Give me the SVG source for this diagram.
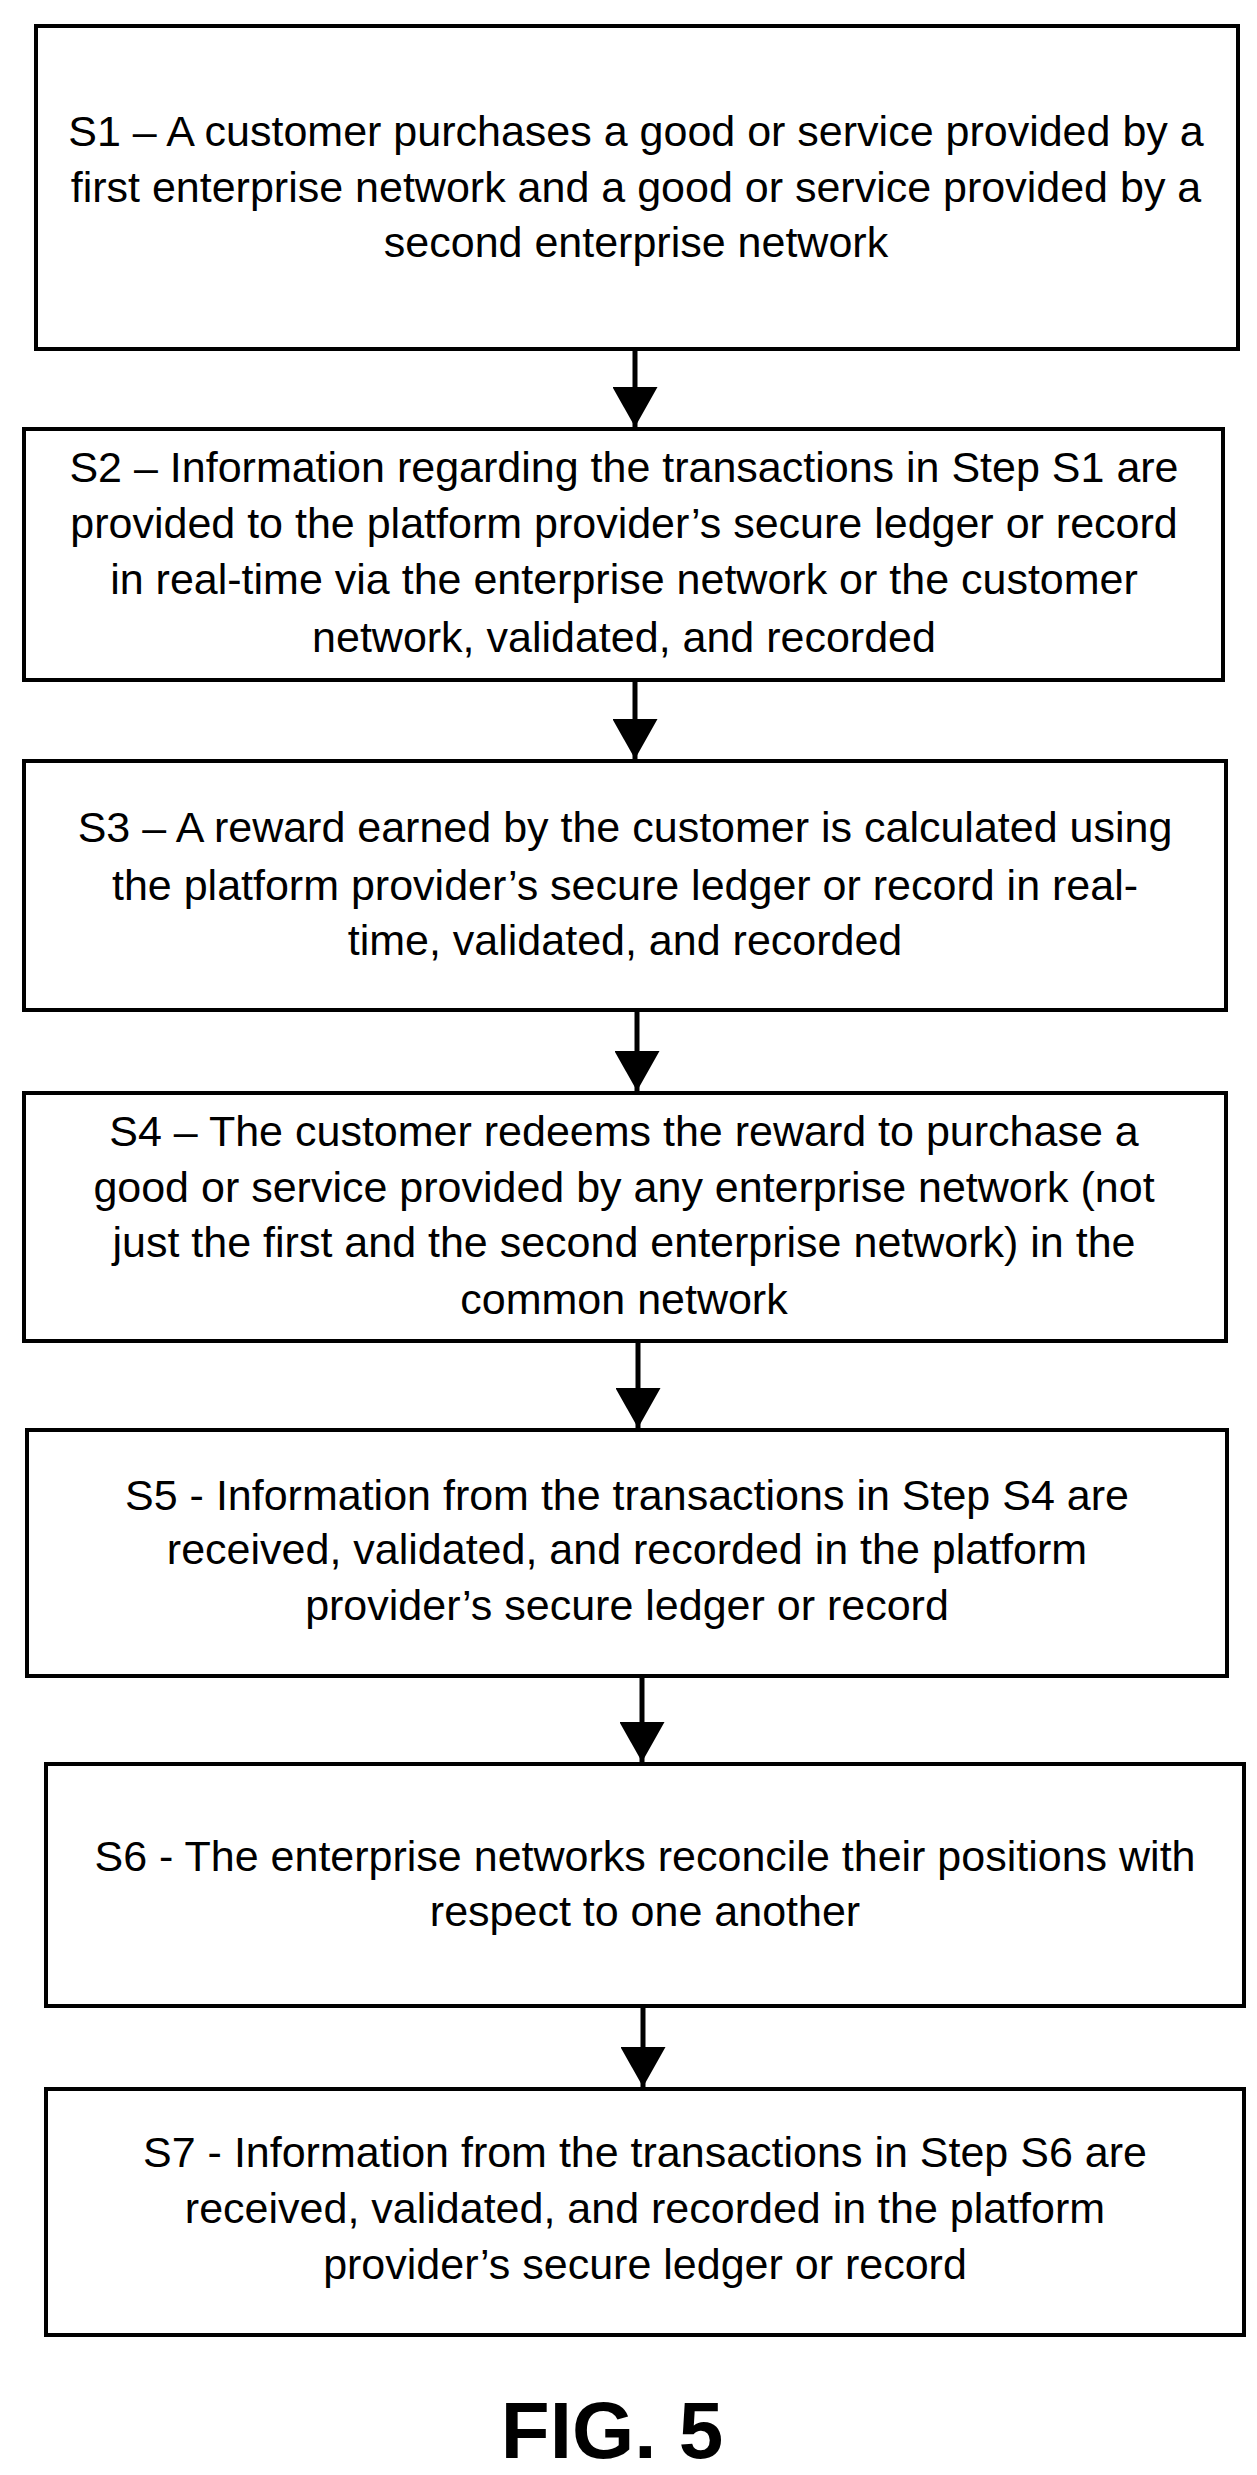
<svg xmlns="http://www.w3.org/2000/svg" width="1257" height="2475" viewBox="0 0 1257 2475">
<style>
.box{fill:#fff;stroke:#000;stroke-width:4}
text{font-family:"Liberation Sans",Arial,sans-serif;font-size:43px;fill:#000;text-anchor:middle}
.fig{font-size:80px;font-weight:bold}
.c line{stroke:#000;stroke-width:5}
</style>
<defs><marker id="ah" markerWidth="8" markerHeight="9" refX="8" refY="4.5" orient="auto" markerUnits="strokeWidth"><path d="M0,0 L8,4.5 L0,9 Z" fill="#000"/></marker></defs>
<rect width="1257" height="2475" fill="#fff"/>
<g id="connectors" class="c">
<line x1="635" y1="349" x2="635" y2="427" marker-end="url(#ah)"/>
<line x1="635" y1="680" x2="635" y2="759" marker-end="url(#ah)"/>
<line x1="637" y1="1010" x2="637" y2="1091" marker-end="url(#ah)"/>
<line x1="638" y1="1341" x2="638" y2="1428" marker-end="url(#ah)"/>
<line x1="642" y1="1676" x2="642" y2="1762" marker-end="url(#ah)"/>
<line x1="643" y1="2006" x2="643" y2="2087" marker-end="url(#ah)"/>
</g>
<g id="s1"><rect class="box" x="36" y="26" width="1202" height="323"/>
<text x="636" y="146">S1 – A customer purchases a good or service provided by a</text>
<text x="636" y="202">first enterprise network and a good or service provided by a</text>
<text x="636" y="257">second enterprise network</text></g>
<g id="s2"><rect class="box" x="24" y="429" width="1199" height="251"/>
<text x="624" y="482">S2 – Information regarding the transactions in Step S1 are</text>
<text x="624" y="538">provided to the platform provider’s secure ledger or record</text>
<text x="624" y="594">in real-time via the enterprise network or the customer</text>
<text x="624" y="652">network, validated, and recorded</text></g>
<g id="s3"><rect class="box" x="24" y="761" width="1202" height="249"/>
<text x="625" y="842">S3 – A reward earned by the customer is calculated using</text>
<text x="625" y="900">the platform provider’s secure ledger or record in real-</text>
<text x="625" y="955">time, validated, and recorded</text></g>
<g id="s4"><rect class="box" x="24" y="1093" width="1202" height="248"/>
<text x="624" y="1146">S4  – The customer redeems the reward to purchase a</text>
<text x="624" y="1202">good or service provided by any enterprise network (not</text>
<text x="624" y="1257">just the first and the second enterprise network) in the</text>
<text x="624" y="1314">common network</text></g>
<g id="s5"><rect class="box" x="27" y="1430" width="1200" height="246"/>
<text x="627" y="1510">S5  - Information from the transactions in Step S4 are</text>
<text x="627" y="1564">received, validated, and recorded in the platform</text>
<text x="627" y="1620">provider’s secure ledger or record</text></g>
<g id="s6"><rect class="box" x="46" y="1764" width="1198" height="242"/>
<text x="645" y="1871">S6  - The enterprise networks reconcile their positions with</text>
<text x="645" y="1926">respect to one another</text></g>
<g id="s7"><rect class="box" x="46" y="2089" width="1198" height="246"/>
<text x="645" y="2167">S7  - Information from the transactions in Step S6 are</text>
<text x="645" y="2223">received, validated, and recorded in the platform</text>
<text x="645" y="2279">provider’s secure ledger or record</text></g>
<text class="fig" x="612" y="2458">FIG. 5</text>
</svg>
